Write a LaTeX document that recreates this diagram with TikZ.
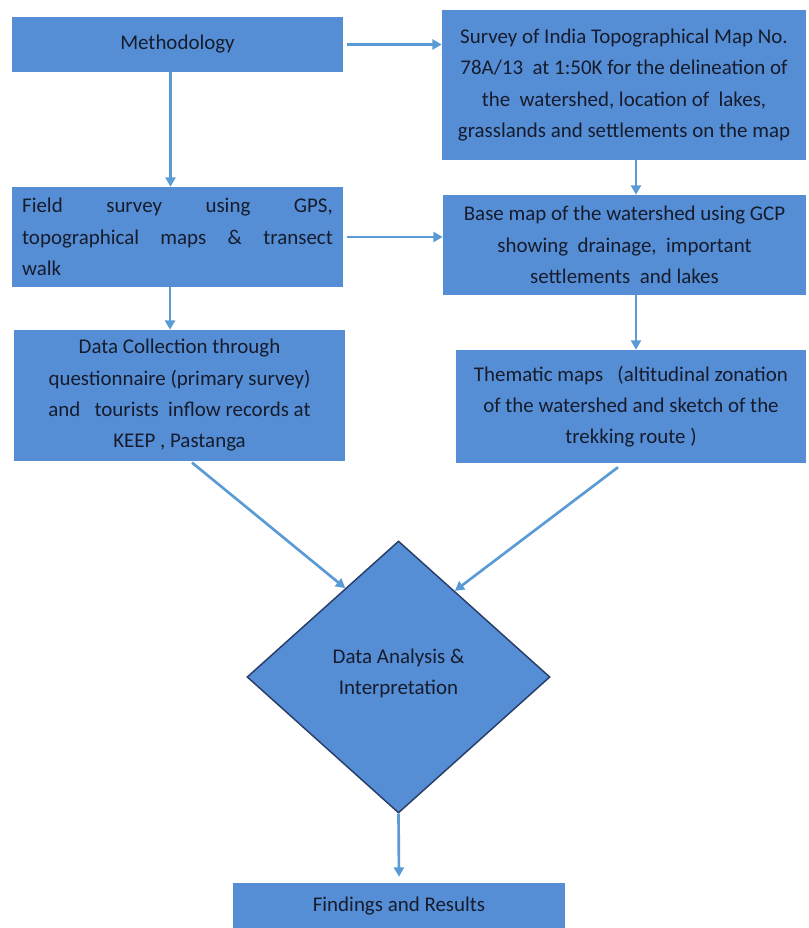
\documentclass[tikz,border=0pt]{standalone}
\usepackage{fontspec}
\setmainfont{Carlito}
\usetikzlibrary{shapes.geometric,arrows.meta,calc}
\definecolor{boxblue}{RGB}{85,142,213}
\definecolor{arrowblue}{RGB}{91,155,213}
\definecolor{textnavy}{RGB}{22,28,45}
\definecolor{edgenavy}{RGB}{40,62,104}

\begin{document}
\begin{tikzpicture}[x=0.75pt,y=-0.75pt,
        every node/.style={fill=boxblue,text=textnavy,inner sep=0pt,align=center,font=\fontsize{15.7}{23.5}\selectfont},
        arr/.style={draw=arrowblue,line width=2pt,-{Triangle[length=7pt,width=7.5pt]}}]
            \useasboundingbox (0,0) rectangle (808,928);

            \node[minimum width=248.25pt,minimum height=41.25pt] (meth) at (177.5,44.5) {Methodology};
            \node[minimum width=273pt,minimum height=112.5pt] (survey) at (624,85) {Survey of India Topographical Map No.\\ 78A/13\ \ at 1:50K for the delineation of\\ the\ \ watershed, location of\ \ lakes,\\ grasslands and settlements on the map};
            \node[minimum width=248.25pt,minimum height=75pt,align=left,text width=233pt] (field) at (177.5,237) {Field\hfill survey\hfill using\hfill GPS,\\ topographical\hfill maps\hfill \&\hfill transect\\ walk};
            \node[minimum width=272.25pt,minimum height=75pt] (base) at (624.5,245) {Base map of the watershed using GCP\\ showing\ \ drainage,\ \ important\\ settlements\ \ and lakes};
            \node[minimum width=248.25pt,minimum height=98.25pt] (collect) at (179.5,395.5) {Data Collection through\\ questionnaire (primary survey)\\ and\ \ \ tourists\ \ inflow records at\\ KEEP , Pastanga};
            \node[minimum width=262.5pt,minimum height=84.75pt] (thematic) at (631,406.5) {Thematic maps\ \ \ (altitudinal zonation\\ of the watershed and sketch of the\\ trekking route )};
            \node[diamond,draw=edgenavy,line width=1.1pt,minimum width=227.25pt,minimum height=204pt] (diam) at (398.5,677) {Data Analysis \&\\ Interpretation\\[-16pt]};
            \node[minimum width=249pt,minimum height=34.5pt] (find) at (399,906) {Findings and Results};

            \draw [arr] ([xshift=3pt]meth.east) -- (meth.east -| survey.west);
            \draw [arr] ([xshift=-5.25pt]meth.south) -- ([xshift=-5.25pt]meth.south |- field.north);
            \draw [arr] ([xshift=9pt]survey.south) -- ([xshift=9pt]survey.south |- base.north);
            \draw [arr] ([xshift=3pt]field.east) -- (field.east -| base.west);
            \draw [arr] ([xshift=-5.6pt]field.south) -- ([xshift=-5.6pt]field.south |- collect.north);
            \draw [arr] ([xshift=8.6pt]base.south) -- ([xshift=8.6pt]base.south |- thematic.north);
            \draw [arr] ([xshift=9.4pt,yshift=-1pt]collect.south) -- ($(diam.north)!0.35!(diam.west)$);
            \draw [arr] ([xshift=-9.75pt,yshift=-3pt]thematic.south) -- ($(diam.north)!0.37!(diam.east)$);
            \draw [arr] (diam.south) -- ([yshift=4.5pt]find.north);
        \end{tikzpicture}
\end{document}
